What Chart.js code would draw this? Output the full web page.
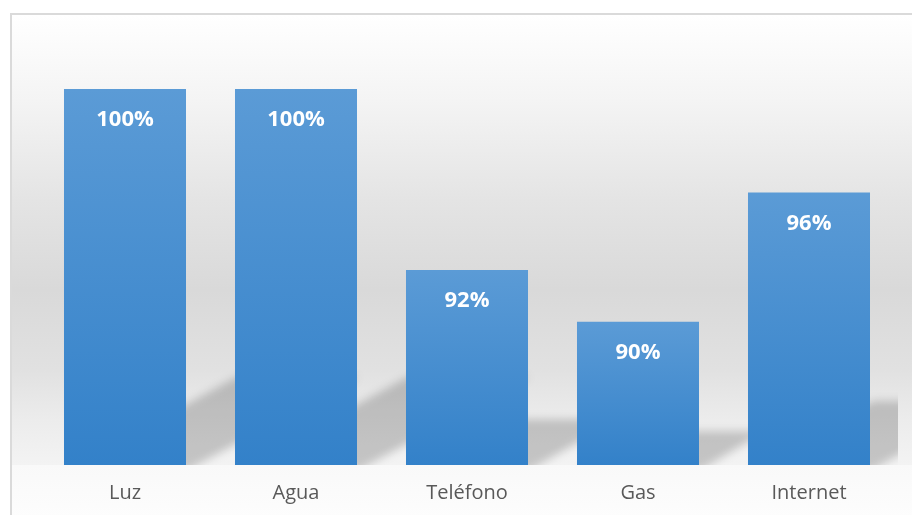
<!DOCTYPE html>
<html>
<head>
<meta charset="utf-8">
<script src="https://cdn.jsdelivr.net/npm/chart.js@4"></script>
<style>
  html, body { margin: 0; padding: 0; background: #fff; }
  #wrap { position: absolute; left: 0; top: 0; width: 912px; height: 515px; overflow: hidden; }
</style>
</head>
<body>
<div id="wrap"><canvas id="myChart" width="912" height="532"></canvas></div>
<script>
/* data */
var categories = ['Luz', 'Agua', 'Teléfono', 'Gas', 'Internet'];
var values = [100, 100, 92.3, 90.1, 95.6];
var valueLabels = ['100%', '100%', '92%', '90%', '96%'];
var yMin = 84;
var yMax = 100;

/* bar fill: light blue at the top of each bar, darker at the base */
function barFill(context) {
  var chart = context.chart;
  var area = chart.chartArea;
  if (!area || context.dataIndex === undefined) return '#4a8fd1';
  var top = chart.scales.y.getPixelForValue(values[context.dataIndex]);
  var g = chart.ctx.createLinearGradient(0, top, 0, area.bottom);
  g.addColorStop(0, '#5b9bd6');
  g.addColorStop(1, '#3381c9');
  return g;
}

/* background, perspective shadows and value labels */
var decor = {
  id: 'decor',
  beforeDraw: function(chart) {
    var ctx = chart.ctx;
    var base = chart.chartArea.bottom;
    ctx.save();
    ctx.fillStyle = '#ffffff';
    ctx.fillRect(0, 0, chart.width, chart.height);
    var g = ctx.createLinearGradient(0, 15, 0, base);
    g.addColorStop(0, '#ffffff');
    g.addColorStop((100 - 15) / (base - 15), '#f4f4f4');
    g.addColorStop((200 - 15) / (base - 15), '#e4e4e4');
    g.addColorStop((290 - 15) / (base - 15), '#d9d9d9');
    g.addColorStop((370 - 15) / (base - 15), '#e1e1e1');
    g.addColorStop((420 - 15) / (base - 15), '#ececec');
    g.addColorStop(1, '#f3f3f3');
    ctx.fillStyle = g;
    ctx.fillRect(12, 15, chart.width - 12, base - 15);
    var f = ctx.createLinearGradient(0, base, 0, chart.height);
    f.addColorStop(0, '#f9f9f9');
    f.addColorStop(1, '#fefefe');
    ctx.fillStyle = f;
    ctx.fillRect(12, base, chart.width - 12, chart.height - base);
    // frame
    ctx.fillStyle = '#dadada';
    ctx.fillRect(10, 13, chart.width - 10, 2);
    ctx.fillRect(10, 13, 2, chart.height - 13);
    ctx.restore();
  },
  beforeDatasetsDraw: function(chart) {
    var ctx = chart.ctx;
    var base = chart.chartArea.bottom;
    var meta = chart.getDatasetMeta(0);
    ctx.save();
    ctx.beginPath();
    ctx.rect(12, 15, 886, base - 15);
    ctx.clip();
    ctx.filter = 'blur(4px)';
    ctx.fillStyle = 'rgba(0,0,0,0.19)';
    meta.data.forEach(function(bar) {
      var h = base - bar.y;
      var left = bar.x - bar.width / 2;
      var right = bar.x + bar.width / 2;
      var dx = h * 0.46;
      var dy = h * 0.235;
      ctx.beginPath();
      ctx.moveTo(left, base + 6);
      ctx.lineTo(right, base + 6);
      ctx.lineTo(right + dx, base - dy);
      ctx.lineTo(left + dx, base - dy);
      ctx.closePath();
      ctx.fill();
    });
    ctx.restore();
  },
  afterDatasetsDraw: function(chart) {
    var ctx = chart.ctx;
    var meta = chart.getDatasetMeta(0);
    ctx.save();
    ctx.fillStyle = '#ffffff';
    ctx.font = 'bold 22px "Open Sans"';
    ctx.textAlign = 'center';
    ctx.textBaseline = 'middle';
    meta.data.forEach(function(bar, i) {
      ctx.fillText(valueLabels[i], bar.x, bar.y + 31);
    });
    ctx.restore();
  }
};

var ctx = document.getElementById('myChart').getContext('2d');
var myChart = new Chart(ctx, {
  type: 'bar',
  data: {
    labels: categories,
    datasets: [{
      data: values,
      backgroundColor: barFill,
      borderWidth: 0,
      categoryPercentage: 1,
      barPercentage: 0.7135
    }]
  },
  options: {
    responsive: false,
    animation: false,
    layout: { padding: { left: 39.5, right: 17.5, top: 89, bottom: 11 } },
    plugins: { legend: { display: false }, tooltip: { enabled: false } },
    scales: {
      y: { display: false, min: yMin, max: yMax },
      x: {
        border: { display: false },
        grid: { display: false, drawTicks: false },
        ticks: {
          color: '#595959',
          padding: 16,
          font: { family: '"Open Sans"', size: 20 }
        }
      }
    }
  },
  plugins: [decor]
});
</script>
</body>
</html>
